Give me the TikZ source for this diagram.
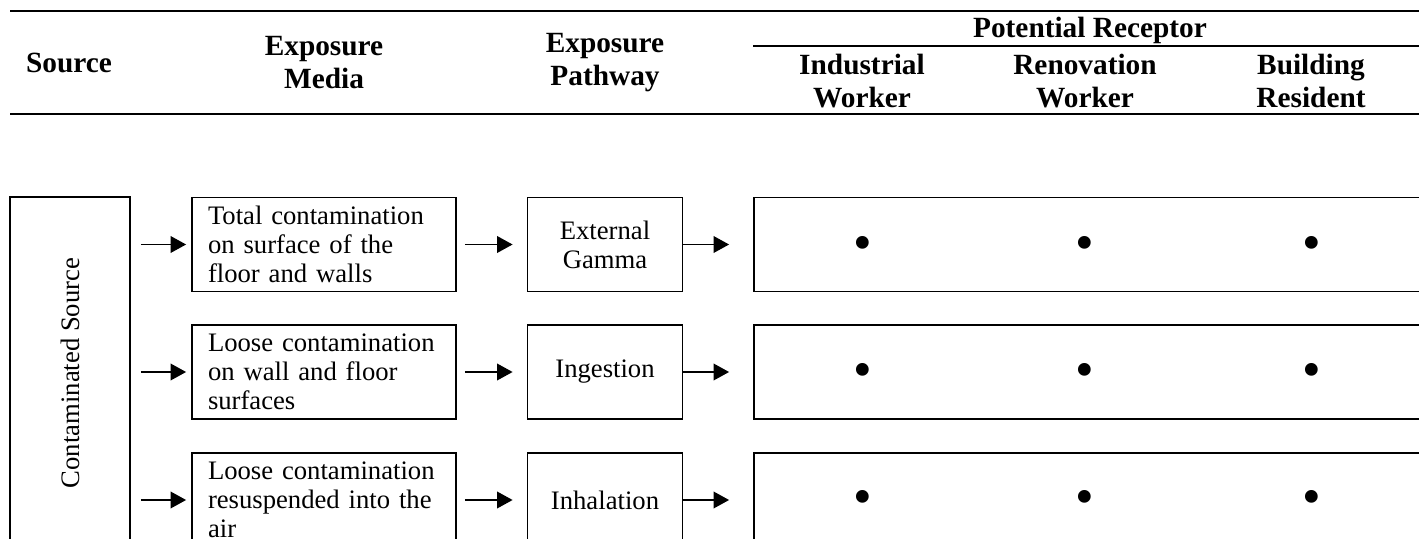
\documentclass[tikz,border=0pt]{standalone}
\usepackage{fontspec}
\setmainfont{Liberation Serif}
\usepackage{tikz}
\usetikzlibrary{arrows.meta}

\begin{document}
\begin{tikzpicture}[
    x=0.45pt, y=-0.45pt,
    font=\fontsize{12}{13}\selectfont,
    head/.style={font=\fontsize{13.2}{14.85}\selectfont\bfseries, align=center, inner sep=0pt},
    rule/.style={draw=black, line width=1pt},
    box/.style={draw=black, line width=0.8pt, inner sep=0pt, minimum height=42.3pt},
    media/.style={box, align=left, text width=104.4pt, inner xsep=7.2pt, minimum width=118.8pt},
    route/.style={box, align=center, minimum width=69.75pt},
    recep/.style={box, minimum width=315pt},
    flow/.style={draw=black, line width=0.7pt, -{Triangle[length=7pt,width=7.5pt]}},
    hit/.style={inner sep=0pt, font=\fontsize{24}{24}\selectfont}
]
    \useasboundingbox (0,0) rectangle (1419,539);
    \clip (0,0) rectangle (1419,539);

    % Table header rules
    \draw[rule] (10,11) -- (1430,11);
    \draw[rule] (753,46) -- (1430,46);
    \draw[rule] (10,114) -- (1430,114);

    % Column headings
    \node[head] (hsrc) at (69,63) {Source};
    \node[head] (hmed) at (324,63) {Exposure\\Media};
    \node[head] (hway) at (605,63) {Exposure\\Pathway};
    \node[head] (hrec) at (1090,30) {Potential Receptor};
    \node[head] (hind) at (862,81) {Industrial\\Worker};
    \node[head] (hren) at (1085,81) {Renovation\\Worker};
    \node[head] (hres) at (1311,81) {Building\\Resident};

    % Source column (rotated, so its south side faces right)
    \node[box, rotate=90, minimum width=158.4pt, minimum height=54pt] (src) at (70,373) {Contaminated Source};

    % Row 1: external gamma
    \node[media] (med1) at (324,244.5) {Total contamination\\on surface of the\\floor and walls};
    \node[route] (way1) at (605,244.5) {External\\Gamma};
    \node[recep] (rec1) at (1104,244.5) {};

    % Row 2: ingestion
    \node[media] (med2) at (324,372) {Loose contamination\\on wall and floor\\surfaces};
    \node[route] (way2) at (605,372) {Ingestion};
    \node[recep] (rec2) at (1104,372) {};

    % Row 3: inhalation
    \node[media] (med3) at (324,500) {Loose contamination\\resuspended into the\\air};
    \node[route] (way3) at (605,500) {Inhalation};
    \node[recep] (rec3) at (1104,500) {};

    % Receptor marks
    \foreach \row/\yy in {1/248, 2/375, 3/502} {
        \node[hit] (ind\row) at (863,\yy) {\textbullet};
        \node[hit] (ren\row) at (1085,\yy) {\textbullet};
        \node[hit] (res\row) at (1312,\yy) {\textbullet};
    }

    % Arrows
    \draw[flow, shorten <=4.5pt, shorten >=2.25pt] (src.south |- med1.west) -- (med1.west);
    \draw[flow, shorten <=3.6pt, shorten >=6.3pt] (med1) -- (way1);
    \draw[flow, shorten >=10.8pt] (way1) -- (rec1);

    \draw[flow, shorten <=4.5pt, shorten >=2.25pt] (src.south |- med2.west) -- (med2.west);
    \draw[flow, shorten <=3.6pt, shorten >=6.3pt] (med2) -- (way2);
    \draw[flow, shorten >=10.8pt] (way2) -- (rec2);

    \draw[flow, shorten <=4.5pt, shorten >=2.25pt] (src.south |- med3.west) -- (med3.west);
    \draw[flow, shorten <=3.6pt, shorten >=6.3pt] (med3) -- (way3);
    \draw[flow, shorten >=10.8pt] (way3) -- (rec3);

\end{tikzpicture}
\end{document}
